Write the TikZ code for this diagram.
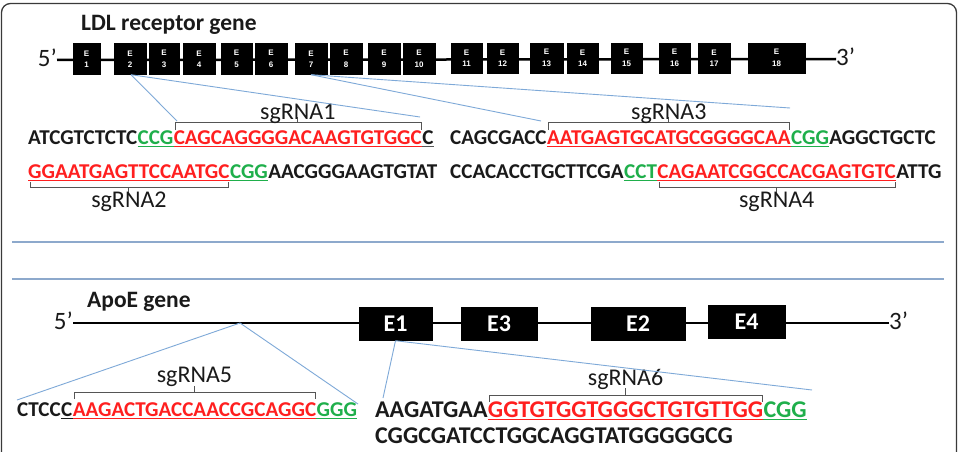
\documentclass[tikz,border=0pt]{standalone}
\usepackage{fontspec}
\setmainfont{Carlito}
\newfontfamily\exfont{Liberation Sans}
\usetikzlibrary{calc}
\definecolor{seqred}{HTML}{FF1F1F}
\definecolor{seqgreen}{HTML}{1FAF4B}
\definecolor{zoomblue}{HTML}{7EA9D8}
\definecolor{divblue}{HTML}{8DA9CC}
\definecolor{brkgray}{HTML}{555555}
\definecolor{txt}{HTML}{1A1A1A}
\definecolor{framec}{HTML}{3A3A3A}
\begin{document}
\begin{tikzpicture}[x=1pt,y=-1pt,
 exon/.style={fill=black, draw=black, inner sep=0pt, text=white, align=center},
 sexon/.style={exon, font=\exfont\bfseries\fontsize{8}{11.5}\selectfont},
 bexon/.style={exon, minimum height=33pt, font=\bfseries\fontsize{24}{26}\selectfont},
 gline/.style={line width=2.5pt, draw=black},
 zline/.style={draw=zoomblue, line width=0.9pt},
 seq/.style={inner sep=0pt, anchor=base west, text=txt, font=\bfseries\fontsize{21.1}{24}\selectfont},
 seqv/.style={seq, font=\bfseries\fontsize{21.1}{24}\selectfont},
 bigseq/.style={seq, font=\bfseries\fontsize{24}{26}\selectfont},
 rd/.style={text=seqred}, gn/.style={text=seqgreen},
 ulr/.style={draw=seqred, line width=1pt},
 ulg/.style={draw=seqgreen, line width=1pt},
 ulk/.style={draw=brkgray, line width=1pt},
 brk/.style={draw=brkgray, line width=1pt},
 lab/.style={inner sep=0pt, anchor=base, text=txt, font=\fontsize{24}{26}\selectfont},
 ttl/.style={inner sep=0pt, anchor=base west, text=txt, font=\bfseries\fontsize{23.5}{26}\selectfont},
 ttlb/.style={ttl, font=\bfseries\fontsize{23.5}{26}\selectfont},
 prime/.style={inner sep=0pt, text=txt, font=\fontsize{25}{28}\selectfont},
 divline/.style={draw=divblue, line width=1.4pt},
 ]
\useasboundingbox (0,0) rectangle (961,452);
\clip (0,0) rectangle (961,452);
\fill[white] (0,0) rectangle (961,452);
\draw[framec, line width=1.3pt, rounded corners=9pt] (1.5,470) -- (1.5,3.5) -- (956.5,3.5) -- (956.5,470);

% ---------------- LDL receptor gene ----------------
\node[ttl] (t1) at (81,31) {LDL receptor gene};
\node[prime, anchor=east] (p5) at (57,58) {5’};
\node[prime, anchor=west] (p3) at (836,57) {3’};
\draw[gline] ([yshift=-2pt]p5.east) -- ([yshift=-2pt]p3.west);
\foreach \n/\c/\w in {1/86.5/27, 2/130/32, 3/164/30, 4/199/32, 5/236.5/31, 6/271/32, 7/311/32, 8/346/32, 9/384/32, 10/419/32}
  \node[sexon, minimum width=\w pt, minimum height=31pt] (l\n) at (\c,59) {E\\\n};
\foreach \n/\c/\w in {11/466.5/31, 12/502.5/31, 13/546.5/33, 14/582.5/31, 15/626.5/31, 16/674.5/31, 17/714/32, 18/776.5/57}
  \node[sexon, minimum width=\w pt, minimum height=30pt] (l\n) at (\c,58) {E\\\n};

% row 1
\node[seq] (s1a) at (28,144) {ATCGTCTCTC};
\node[seq, gn] (s1b) at (s1a.base east) {CCG};
\node[seq, rd] (s1c) at (s1b.base east) {CAGCAGGGGACAAGTGTGGC};
\node[seq] (s1d) at (s1c.base east) {C};
\node[seq] (s3a) at (450,144) {CAGCGACC};
\node[seq, rd] (s3b) at (s3a.base east) {AATGAGTGCATGCGGGGCAA};
\node[seq, gn] (s3c) at (s3b.base east) {CGG};
\node[seq] (s3d) at (s3c.base east) {AGGCTGCTC};
% row 2
\node[seq, rd] (s2a) at (28,178) {GGAATGAGTTCCAATGC};
\node[seq, gn] (s2b) at (s2a.base east) {CGG};
\node[seq] (s2c) at (s2b.base east) {AACGGGAAGTGTAT};
\node[seq] (s4a) at (450,178) {CCACACCTGCTTCGA};
\node[seq, gn] (s4b) at (s4a.base east) {CCT};
\node[seq, rd] (s4c) at (s4b.base east) {CAGAATCGGCCACGAGTGTC};
\node[seq] (s4d) at (s4c.base east) {ATTG};

% underlines
\foreach \s in {s1c,s3b,s2a,s4c}
  \draw[ulr] ([yshift=-2.5pt]\s.base west) -- ([yshift=-2.5pt]\s.base east);
\foreach \s in {s1b,s3c,s2b,s4b}
  \draw[ulg] ([yshift=-2.5pt]\s.base west) -- ([yshift=-2.5pt]\s.base east);
\draw[ulk] ([yshift=-2.5pt]s1d.base west) -- ([yshift=-2.5pt]s1d.base east);

% brackets over (row 1)
\foreach \s/\t in {s1c/sgRNA1, s3b/sgRNA3} {
  \draw[brk] ([shift={(2pt,14pt)}]\s.base west) -- ++(0pt,8pt) -- ([shift={(-1pt,22pt)}]\s.base east) -- ++(0pt,-8pt);
  \coordinate (m\s) at ($(\s.base west)!0.5!(\s.base east)$);
  \draw[brk] ([yshift=22pt]m\s) -- ++(0pt,5pt);
  \node[lab] (n\s) at ([yshift=25pt]m\s) {\t};
}
% brackets under (row 2)
\foreach \s/\t in {s2a/sgRNA2, s4c/sgRNA4} {
  \draw[brk] ([shift={(2pt,-4pt)}]\s.base west) -- ++(0pt,-5pt) -- ([shift={(-1pt,-9pt)}]\s.base east) -- ++(0pt,5pt);
  \coordinate (m\s) at ($(\s.base west)!0.5!(\s.base east)$);
  \draw[brk] ([yshift=-9pt]m\s) -- ++(0pt,-6pt);
  \node[lab] (n\s) at ([yshift=-29pt]m\s) {\t};
}

% zoom lines LDL
\coordinate (c1a) at (177,121);
\coordinate (c1b) at (420,117);
\coordinate (c3a) at (541,121);
\coordinate (c3b) at (790,108);
\draw[zline] ([xshift=1pt]l2.south) -- (c1a);
\draw[zline] ([xshift=1pt]l2.south) -- (c1b);
\draw[zline] (l7.south) -- (c3a);
\draw[zline] (l7.south) -- (c3b);

% dividers
\coordinate (d1a) at (12,242); \coordinate (d1b) at (944,242);
\coordinate (d2a) at (12,279); \coordinate (d2b) at (944,279);
\draw[divline] (d1a) -- (d1b);
\draw[divline] (d2a) -- (d2b);

% ---------------- ApoE gene ----------------
\node[ttlb] (t2) at (87,307) {ApoE gene};
\node[prime, anchor=east] (q5) at (73,321) {5’};
\node[prime, anchor=west] (q3) at (889,321) {3’};
\draw[gline] ([yshift=-2pt]q5.east) -- ([yshift=-2pt]q3.west);
\node[bexon, minimum width=73pt] (e1) at (395.5,324) {E1};
\node[bexon, minimum width=76pt] (e3) at (499,324) {E3};
\node[bexon, minimum width=94pt] (e2) at (638,323.5) {E2};
\node[bexon, minimum width=77pt] (e4) at (746.5,322) {E4};

% row 5
\node[seqv] (s5a) at (17,416) {CTCC};
\node[seqv] (s5b) at (s5a.base east) {C};
\node[seqv, rd] (s5c) at (s5b.base east) {AAGACTGACCAACCGCAGGC};
\node[seqv, gn] (s5d) at (s5c.base east) {GGG};
% row 6/7
\node[bigseq] (s6a) at (375,417) {AAGATGAA};
\node[bigseq, rd] (s6b) at (s6a.base east) {GGTGTGGTGGGCTGTGTTGG};
\node[bigseq, gn] (s6c) at (s6b.base east) {CGG};
\node[bigseq] (s7) at (375,443) {CGGCGATCCTGGCAGGTATGGGGGCG};

\foreach \s in {s5c,s6b}
  \draw[ulr] ([yshift=-2.5pt]\s.base west) -- ([yshift=-2.5pt]\s.base east);
\foreach \s in {s5d,s6c}
  \draw[ulg] ([yshift=-2.5pt]\s.base west) -- ([yshift=-2.5pt]\s.base east);
\draw[draw=txt, line width=1pt] ([yshift=-2.5pt]s5b.base west) -- ([yshift=-2.5pt]s5b.base east);

\draw[brk] ([shift={(2pt,17pt)}]s5c.base west) -- ++(0pt,7pt) -- ([shift={(-1pt,24pt)}]s5c.base east) -- ++(0pt,-7pt);
\coordinate (ms5c) at ($(s5c.base west)!0.5!(s5c.base east)$);
\draw[brk] ([yshift=24pt]ms5c) -- ++(0pt,6pt);
\node[lab] (ns5c) at ([yshift=34pt]ms5c) {sgRNA5};

\draw[brk] ([shift={(2pt,15pt)}]s6b.base west) -- ++(0pt,7pt) -- ([shift={(-1pt,22pt)}]s6b.base east) -- ++(0pt,-7pt);
\coordinate (ms6b) at ($(s6b.base west)!0.5!(s6b.base east)$);
\draw[brk] ([yshift=22pt]ms6b) -- ++(0pt,7pt);
\node[lab] (ns6b) at ([yshift=32pt]ms6b) {sgRNA6};

% zoom lines ApoE
\coordinate (a5) at (240,323);
\coordinate (c5a) at (17,400);
\coordinate (c5b) at (358,404);
\coordinate (c6a) at (383,398);
\coordinate (c6b) at (812,390);
\draw[zline] (a5) -- (c5a);
\draw[zline] (a5) -- (c5b);
\draw[zline] (e1.south) -- (c6a);
\draw[zline] (e1.south) -- (c6b);
\end{tikzpicture}
\end{document}
